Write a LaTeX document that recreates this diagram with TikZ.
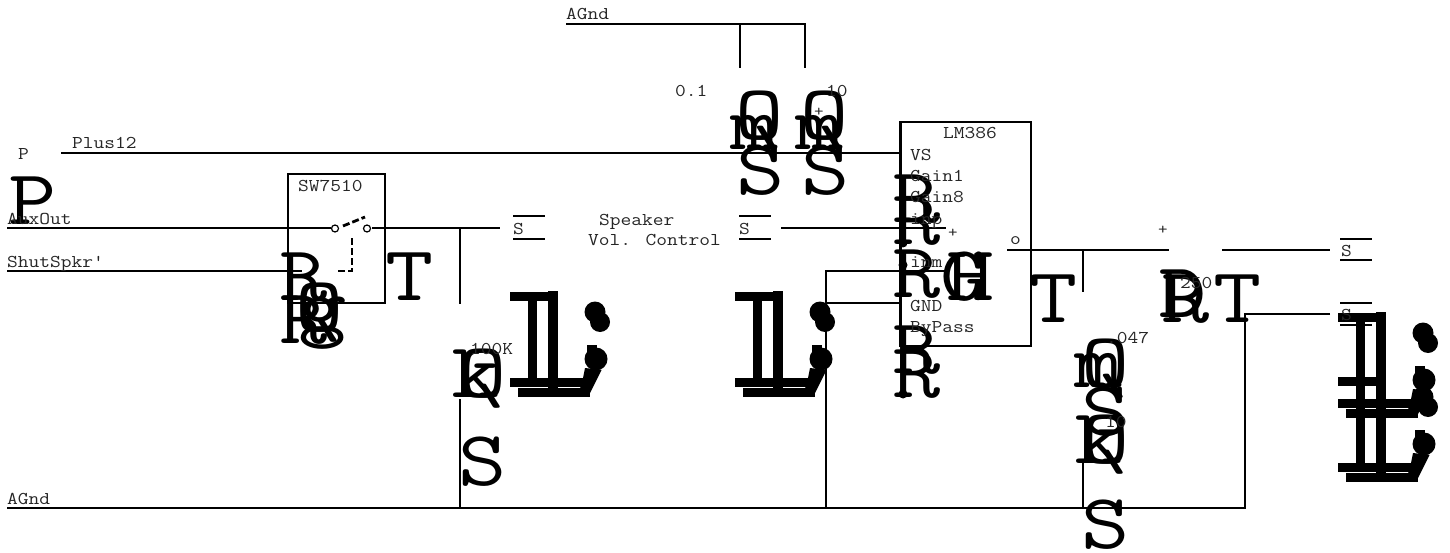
\documentclass[tikz,border=0pt]{standalone}
\usepackage{fontspec}
\usepackage{tikz}
\newfontfamily\schemfont[FakeStretch=1.16]{Latin Modern Mono}
\newfontfamily\glyphfont[FakeStretch=1.2]{Latin Modern Mono}
\tikzset{
    lab/.style={anchor=base west, inner sep=0pt, text=black!85, font=\schemfont\fontsize{18}{18}\selectfont},
    plusmark/.style={inner sep=0pt, text=black!85, font=\schemfont\fontsize{16}{16}\selectfont},
    biglet/.style={anchor=base, inner sep=0pt, font=\glyphfont\fontsize{78}{78}\selectfont},
    wire/.style={line width=2.8pt},
    thin wire/.style={line width=2.5pt},
    terminal/.style={circle, draw, line width=1.2pt, minimum size=7pt, inner sep=0pt},
    pin dot/.style={circle, fill, minimum size=9pt, inner sep=0pt}
}
% heavy mark beside the volume control and the speaker
\newcommand{\heavymark}[2]{
    \begin{scope}[shift={(#1,#2)}]
        \fill (0,1) rectangle (48,10);
        \fill (18,5) rectangle (27,92);
        \fill (38,0) rectangle (48,106);
        \fill (0,87) rectangle (73,96);
        \fill (8,97) rectangle (80,106);
        \fill (85,21) circle (10.5);
        \fill (90,31) circle (10);
        \fill (86,68) circle (11.5);
        \fill (77,54) rectangle (87,64);
        \fill (75,77) -- (91.5,79) -- (78,106) -- (70,96) -- (73,87) -- cycle;
    \end{scope}
}

\begin{document}
\begin{tikzpicture}[x=1pt, y=-1pt]
    \useasboundingbox (0,0) rectangle (1450,553);

    % Big letters
    \node[biglet] (bigP) at (33,225) {P};
    \node[biglet] (swRa) at (304,300) {R};
    \node[biglet] (swRb) at (304,343) {R};
    \node[biglet] (swQ) at (320,331) {Q};
    \node[biglet] (swG) at (323,331) {g};
    \node[biglet] (swT) at (410,300) {T};
    \node[biglet] (potK) at (476,397) {k};
    \node[biglet] (potQ) at (483,397) {Q};
    \node[biglet] (potS) at (483,485) {S};
    \node[biglet] (capaM) at (755,150) {m};
    \node[biglet] (capaQ) at (760,140) {Q};
    \node[biglet] (capaS) at (761,195) {S};
    \node[biglet] (capbM) at (820,150) {m};
    \node[biglet] (capbQ) at (825,140) {Q};
    \node[biglet] (capbS) at (826,195) {S};
    \foreach \rname/\rbase in {Ra/223, Rb/245, Rc/298, Rd/373, Re/397}
        \node[biglet] (amp\rname) at (917,\rbase) {R};
    \node[biglet] (ampG) at (965,300) {G};
    \node[biglet] (ampH) at (971,300) {H};
    \node[biglet] (ampT) at (1054,322) {T};
    \node[biglet] (outM) at (1099,387) {m};
    \node[biglet] (outQa) at (1106,387) {Q};
    \node[biglet] (outSa) at (1106,435) {S};
    \node[biglet] (outK) at (1099,463) {k};
    \node[biglet] (outQb) at (1106,463) {Q};
    \node[biglet] (outSb) at (1106,548) {S};
    \node[biglet] (outR) at (1186,322) {R};
    \node[biglet] (outD) at (1183,317) {D};
    \node[biglet] (outT) at (1238,322) {T};

    % Heavy marks
    \heavymark{510}{291}
    \heavymark{735}{291}
    \heavymark{1338}{312}
    \heavymark{1338}{376}
    \foreach \dname/\dy in {a/243, b/265, c/394}
        \node[pin dot] (dot\dname) at (903,\dy) {};

    % Wire ends
    \foreach \cname/\cx/\cy in {
        agndA/566/24, agndB/740/24, agndC/805/24, capaT/740/68, capbT/805/68,
        plusA/61/153, plusB/900/153,
        auxA/7/228, auxB/331/228, auxC/372/228, auxD/500/228,
        potJ/460/228, potT/460/304, potB/460/399, potG/460/508,
        shutA/7/271, shutB/302/271,
        ctlA/338/271, ctlB/352/271, ctlC/352/236, armA/343/226, armB/365/217,
        volA/781/228, volB/946/228,
        inmA/826/271, inmB/946/271, gndA/826/303, gndB/900/303, gndC/826/508,
        busA/7/508, busB/1246/508,
        ampA/1007/250, ampB/1169/250, ampJ/1083/250, ampC/1083/292,
        outA/1222/250, outB/1330/250, retA/1330/314, retB/1245/314, retC/1245/508,
        zobA/1083/463, zobB/1083/508,
        sLa/513/216, sLb/545/216, sLc/513/239, sLd/545/239,
        sRa/739/216, sRb/771/216, sRc/739/239, sRd/771/239,
        sOa/1340/239, sOb/1372/239, sOc/1340/260, sOd/1372/260,
        sPa/1340/303, sPb/1372/303, sPc/1340/325, sPd/1372/325}
        \coordinate (\cname) at (\cx,\cy);

    % Wires
    \draw[wire] (agndA) -- (agndC) -- (capbT);
    \draw[wire] (agndB) -- (capaT);
    \draw[wire] (plusA) -- (plusB);
    \draw[wire] (auxA) -- (auxB);
    \draw[wire] (auxC) -- (auxD);
    \draw[wire] (potJ) -- (potT);
    \draw[wire] (potB) -- (potG);
    \draw[wire] (shutA) -- (shutB);
    \draw[wire] (volA) -- (volB);
    \draw[wire] (inmB) -- (inmA) -- (gndC);
    \draw[wire] (gndA) -- (gndB);
    \draw[wire] (busA) -- (busB);
    \draw[wire] (ampA) -- (ampB);
    \draw[wire] (ampJ) -- (ampC);
    \draw[wire] (outA) -- (outB);
    \draw[wire] (retA) -- (retB) -- (retC);
    \draw[wire] (zobA) -- (zobB);
    \draw[wire, dash pattern=on 7pt off 3pt] (ctlA) -- (ctlB) -- (ctlC);
    \draw[wire, dash pattern=on 7pt off 3pt] (armA) -- (armB);

    % Switch terminals
    \node[terminal] (swA) at (335,228.5) {};
    \node[terminal] (swB) at (367,228.5) {};

    % Boxes
    \draw[thin wire] (288,174) rectangle (385,303);
    \draw[thin wire] (900.5,122) rectangle (1031,346);

    % Speaker plates
    \foreach \pa/\pb in {sLa/sLb, sLc/sLd, sRa/sRb, sRc/sRd, sOa/sOb, sOc/sOd, sPa/sPb, sPc/sPd}
        \draw[wire] (\pa) -- (\pb);

    % Labels
    \node[lab] (labP) at (18,160) {P};
    \node[lab] (labPlus) at (72,149) {Plus12};
    \node[lab] (labAux) at (7,225) {AuxOut};
    \node[lab] (labShut) at (7,268) {ShutSpkr'};
    \node[lab] (labSw) at (298,192) {SW7510};
    \node[lab] (labGndT) at (566,20) {AGnd};
    \node[lab] (labGndB) at (7,504) {AGnd};
    \node[lab] (labSpk) at (599,226) {Speaker};
    \node[lab] (labVol) at (588,246) {Vol. Control};
    \node[lab] (labSa) at (513,235) {S};
    \node[lab] (labSb) at (739,235) {S};
    \node[lab] (labSc) at (1341,257) {S};
    \node[lab] (labSd) at (1341,320) {S};
    \node[lab] (lab100) at (470,354) {100K};
    \node[lab] (labCa) at (675,97) {0.1};
    \node[lab] (labCb) at (826,97) {10};
    \node[lab] (labAmp) at (943,139) {LM386};
    \node[lab] (labVS) at (910,161) {VS};
    \node[lab] (labGa) at (910,182) {Gain1};
    \node[lab] (labGb) at (910,203) {Gain8};
    \node[lab] (labInp) at (910,225) {inp};
    \node[lab] (labInm) at (910,267) {inm};
    \node[lab] (labGnd) at (910,311) {GND};
    \node[lab] (labBy) at (910,332) {ByPass};
    \node[lab] (labO) at (1010,244) {o};
    \node[lab] (lab250) at (1180,288) {250};
    \node[lab] (labC47) at (1106,343) {.047};
    \node[lab] (labR10) at (1105,427) {10};
    \node[plusmark] (markA) at (819,112) {+};
    \node[plusmark] (markB) at (953,233) {+};
    \node[plusmark] (markC) at (1163,230) {+};
\end{tikzpicture}
\end{document}
